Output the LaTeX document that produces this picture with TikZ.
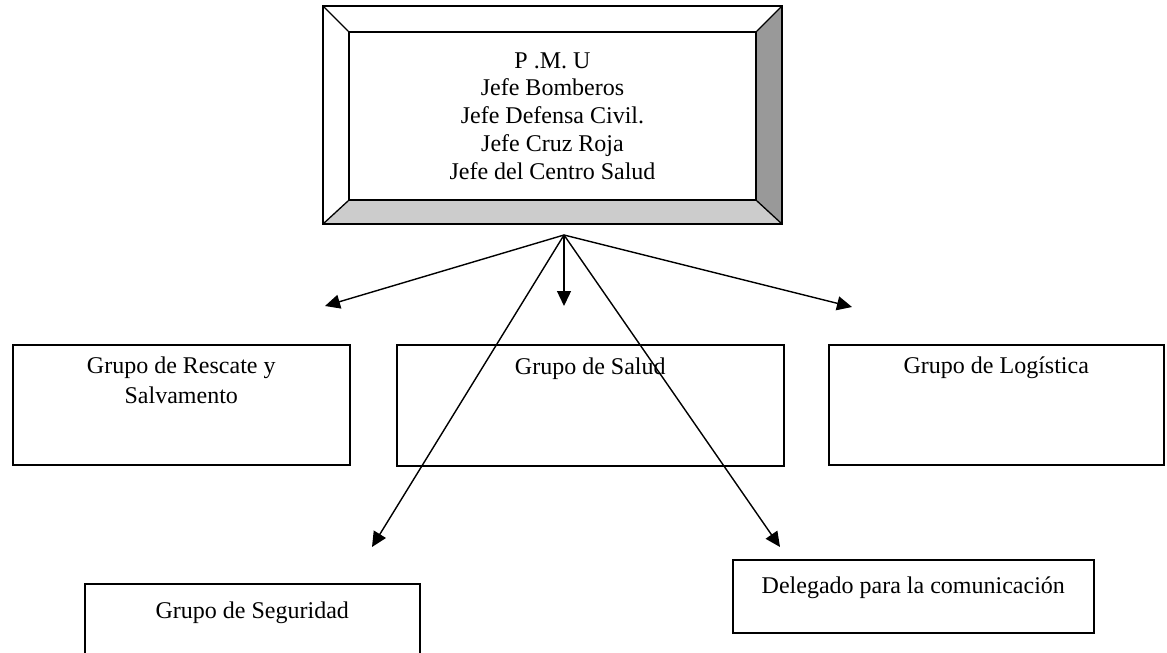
\documentclass[tikz,border=0pt]{standalone}
\usepackage{fontspec}
\setmainfont{Liberation Serif}
\usetikzlibrary{arrows.meta,calc,backgrounds}

\begin{document}
\begin{tikzpicture}[x=1pt,y=-1pt,
  grupo/.style={draw=black,line width=1.6pt,inner sep=0pt,anchor=north west},
  flecha/.style={black,line width=1.4pt,-{Triangle[length=15pt,width=14pt]}}]
\tikzstyle{every node}+=[font=\fontsize{24}{27.8}\selectfont]
\useasboundingbox (0,0) rectangle (1167,653);
\node [draw=black,line width=1.6pt,inner sep=0pt,minimum width=407pt,minimum height=168pt,align=center] (pmu) at (552.5,116) {P .M. U\\Jefe Bomberos\\Jefe Defensa Civil.\\Jefe Cruz Roja\\Jefe del Centro Salud};
\coordinate (pmu-onw) at ($(pmu.north west)+(-25,-25)$);
\coordinate (pmu-one) at ($(pmu.north east)+(25,-25)$);
\coordinate (pmu-ose) at ($(pmu.south east)+(25,23)$);
\coordinate (pmu-osw) at ($(pmu.south west)+(-25,23)$);
\begin{scope}[on background layer]
\fill [black!40] (pmu.north east) -- (pmu-one) -- (pmu-ose) -- (pmu.south east) -- cycle;
\fill [black!20] (pmu.south west) -- (pmu.south east) -- (pmu-ose) -- (pmu-osw) -- cycle;
\end{scope}
\draw [black,line width=1.6pt] (pmu-onw) rectangle (pmu-ose);
\draw [black,line width=1.3pt] (pmu-onw) -- (pmu.north west);
\draw [black,line width=1.3pt] (pmu-one) -- (pmu.north east);
\draw [black,line width=1.3pt] (pmu-ose) -- (pmu.south east);
\draw [black,line width=1.3pt] (pmu-osw) -- (pmu.south west);
\node [grupo] (rescate) at (12,344) {\parbox[t][120pt][t]{337pt}{\centering\rule{0pt}{29pt}Grupo de Rescate y\\[2.2pt]Salvamento}};
\node [grupo] (salud) at (396,344) {\parbox[t][121pt][t]{387pt}{\centering\rule{0pt}{30pt}Grupo de Salud}};
\node [grupo] (logistica) at (828,344) {\parbox[t][120pt][t]{335pt}{\centering\rule{0pt}{29pt}Grupo de Logística}};
\node [grupo] (seguridad) at (84,583) {\parbox[t][90pt][t]{335pt}{\centering\rule{0pt}{35pt}Grupo de Seguridad}};
\node [grupo] (delegado) at (732,559) {\parbox[t][73pt][t]{361pt}{\centering\rule{0pt}{34pt}Delegado para la comunicación}};
\coordinate (origen) at (564,235);
\coordinate (a-rescate) at (325,306);
\coordinate (a-salud) at (564,306);
\coordinate (a-logistica) at (852,307);
\coordinate (a-seguridad) at (372,547);
\coordinate (a-delegado) at (780,547);
\draw [flecha] (origen) -- (a-rescate);
\draw [flecha] (origen) -- (a-salud);
\draw [flecha] (origen) -- (a-logistica);
\draw [flecha] (origen) -- (a-seguridad);
\draw [flecha] (origen) -- (a-delegado);
\end{tikzpicture}
\end{document}
